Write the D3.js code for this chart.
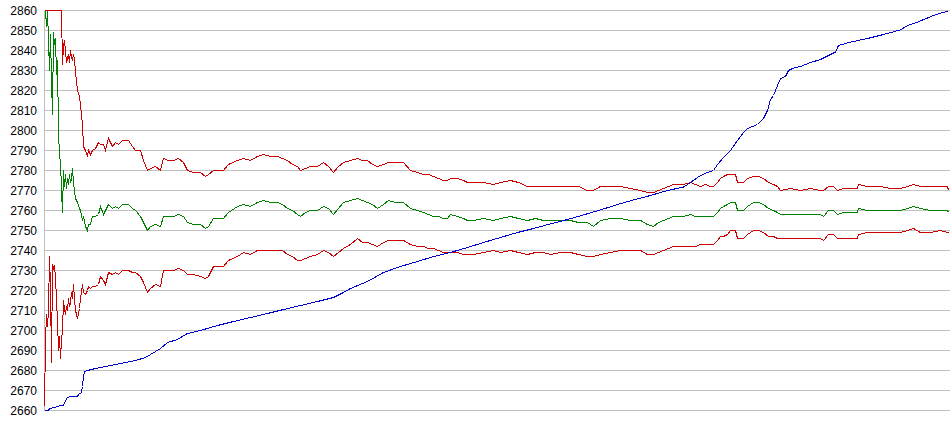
<!DOCTYPE html>
<html>
<head>
<meta charset="utf-8">
<script src="https://cdn.jsdelivr.net/npm/d3@7"></script>
<style>
  body { margin: 0; background: #fff; }
  text { font-family: "Liberation Sans", Arial, sans-serif; font-size: 12px; fill: #000; }
</style>
</head>
<body>
<svg width="950" height="435"></svg>
<script>
// y ticks
var yTicks = d3.range(2660, 2861, 10);

// bar positions shared by the three band series
var bandBars = [0,1,2,3,4,5,6,7,8,9,10,11,12,13,14,15,16,17,18,19,20,21,22,23,24,25,26,27,28,29,30,31,33,35,36,38,39,41,43,44,46,48,51,54,56,59,61,64,68,71,74,78,84,88,91,96,99,103,106,111,116,119,124,129,134,139,143,149,156,161,164,169,179,184,193,199,206,213,219,226,233,238,243,248,253,256,261,266,273,279,284,289,294,299,306,313,318,323,328,333,339,344,351,359,366,373,379,384,389,394,399,403,406,413,419,423,429,439,449,456,466,474,483,491,499,506,516,526,534,543,549,556,566,576,586,596,603,609,614,619,624,629,634,639,646,651,656,661,666,669,673,676,679,683,686,691,693,699,703,709,714,719,724,729,733,736,746,756,766,776,779,784,789,793,799,806,813,814,823,831,836,846,856,863,869,876,886,896,903,904];

// upper band
var upper = [2860,2860,2860,2860,2860,2860,2860,2860,2860,2860,2860,2860,2860,2860,2860,2860,2860,2860,2833,2842,2845,2840,2834,2836,2838,2834,2840,2837,2835,2838,2836,2829,2820,2817,2813,2803,2792,2790,2787,2790,2788,2790,2791,2794,2793,2793,2790,2796,2792,2794,2793,2795,2795,2792,2790,2790,2785,2780,2781,2782,2780,2786,2785,2785,2786,2784,2780,2779,2779,2777,2778,2780,2780,2783,2785,2786,2785,2787,2788,2787,2787,2786,2785,2783,2782,2780,2781,2782,2782,2784,2782,2779,2782,2784,2785,2786,2785,2785,2783,2782,2783,2784,2784,2784,2780,2779,2778,2778,2777,2776,2775,2775,2776,2776,2775,2774,2774,2774,2773,2774,2775,2774,2772,2772,2772,2772,2772,2772,2772,2770,2770,2772,2772,2772,2771,2770,2769,2769,2770,2771,2772,2773,2773,2773,2774,2773,2772,2773,2772,2772,2774,2776,2777,2778,2778,2778,2774,2774,2776,2777,2777,2776,2774,2773,2772,2770,2771,2770,2771,2770,2770,2772,2772,2770,2771,2771,2771,2773,2772,2772,2772,2771,2771,2772,2773,2772,2772,2772,2772,2770];

// middle band
var middle = [2860,2860,2852,2860,2845,2830,2848,2825,2808,2849,2843,2846,2828,2835,2800,2787,2785,2770,2759,2780,2772,2778,2771,2776,2773,2778,2774,2776,2781,2774,2770,2766,2764,2761,2760,2755,2757,2752,2750,2753,2753,2757,2757,2758,2762,2758,2760,2763,2761,2762,2761,2763,2763,2761,2760,2757,2754,2750,2752,2753,2752,2757,2757,2757,2758,2757,2754,2753,2753,2751,2752,2756,2756,2759,2762,2763,2762,2764,2765,2764,2764,2763,2761,2760,2758,2757,2759,2760,2760,2762,2761,2758,2761,2764,2765,2766,2765,2764,2763,2761,2763,2765,2764,2764,2761,2760,2759,2758,2757,2757,2756,2756,2758,2757,2756,2755,2755,2756,2755,2756,2757,2756,2755,2756,2755,2755,2755,2755,2754,2754,2752,2755,2756,2756,2755,2755,2753,2752,2754,2755,2756,2757,2757,2757,2758,2757,2757,2757,2757,2757,2759,2761,2762,2763,2764,2764,2760,2760,2762,2764,2764,2763,2761,2760,2759,2758,2758,2758,2758,2758,2757,2760,2760,2758,2759,2759,2759,2761,2760,2760,2760,2760,2760,2761,2762,2761,2760,2760,2760,2759];

// lower band
var lower = [2662,2695,2708,2702,2710,2737,2722,2684,2733,2731,2732,2727,2715,2705,2690,2697,2686,2695,2700,2715,2711,2708,2712,2710,2716,2712,2714,2719,2716,2723,2716,2710,2706,2711,2716,2723,2719,2718,2720,2722,2721,2722,2722,2723,2727,2725,2723,2729,2728,2729,2728,2730,2730,2729,2729,2727,2724,2719,2721,2723,2722,2730,2730,2730,2731,2730,2728,2728,2727,2726,2727,2732,2732,2735,2737,2739,2738,2740,2740,2740,2740,2740,2738,2737,2735,2735,2736,2737,2738,2740,2739,2737,2739,2741,2743,2746,2744,2744,2743,2742,2744,2745,2745,2745,2743,2742,2742,2741,2741,2740,2739,2739,2739,2739,2738,2738,2738,2739,2740,2739,2740,2739,2738,2739,2739,2738,2739,2739,2738,2737,2737,2738,2739,2740,2740,2740,2738,2738,2739,2740,2741,2742,2742,2742,2742,2742,2743,2743,2743,2743,2745,2747,2747,2748,2750,2750,2746,2746,2748,2750,2750,2749,2747,2747,2746,2746,2746,2746,2746,2746,2745,2748,2748,2746,2746,2746,2746,2748,2749,2749,2749,2749,2749,2750,2751,2749,2749,2750,2749,2749];

// rising line
var trendBars = [0,4,5,11,12,18,20,21,23,26,33,34,37,38,39,40,43,51,61,71,81,91,101,106,111,116,123,133,143,156,173,189,206,223,239,256,273,289,299,306,323,339,356,373,389,406,423,439,456,473,489,506,523,539,556,573,589,606,623,639,646,656,663,669,673,679,686,693,699,703,708,713,719,723,726,729,733,736,741,744,749,756,766,776,786,791,794,806,823,839,856,863,873,889,903];
var trend = [2660,2660,2661,2661.5,2662,2662.5,2663,2665,2666.5,2667,2667,2668,2669,2672,2677,2679.5,2680,2681,2682,2683,2684,2685,2686.5,2688,2689.5,2691,2694,2695.5,2698.5,2700,2702.5,2704.5,2706.5,2708.5,2710.5,2712.5,2714.5,2716.5,2719,2721,2724.5,2729,2732,2734.5,2737,2739,2741.5,2744,2746.5,2749,2751,2753.3,2755.5,2757.8,2760.3,2763,2765.3,2767.5,2770,2771.7,2774,2777.5,2779,2780,2783,2786.5,2790,2795,2799,2801,2802,2803,2806,2810,2815.5,2817.5,2822.5,2826,2827,2830,2831.2,2832,2834,2835.5,2838,2839.2,2842.5,2844.2,2846,2848,2850.3,2852.5,2854.2,2857.5,2859.7];

var svg = d3.select("svg");
var plotLeft = 44, plotRight = 950, plotTop = 10, plotBottom = 410;

var x = d3.scaleLinear().domain([0, 906]).range([plotLeft, plotRight]);
var y = d3.scaleLinear().domain([2660, 2860]).range([plotBottom, plotTop]);

var g = svg.append("g").attr("transform", "translate(0.5,0.5)");

// gridlines
g.append("g")
  .selectAll("line")
  .data(yTicks)
  .join("line")
  .attr("x1", plotLeft)
  .attr("x2", plotRight)
  .attr("y1", d => y(d))
  .attr("y2", d => y(d))
  .attr("stroke", "#c0c0c0")
  .attr("shape-rendering", "crispEdges");

// left axis line
g.append("line")
  .attr("x1", plotLeft).attr("x2", plotLeft)
  .attr("y1", plotTop).attr("y2", plotBottom)
  .attr("stroke", "#c0c0c0")
  .attr("shape-rendering", "crispEdges");

// tick labels
svg.append("g")
  .selectAll("text")
  .data(yTicks)
  .join("text")
  .attr("x", 37)
  .attr("y", d => y(d) + 4.5)
  .attr("text-anchor", "end")
  .text(d => d);

function draw(bars, vals, color) {
  var line = d3.line()
    .defined((d, i) => bars[i] != null)
    .x((d, i) => x(bars[i]))
    .y(d => y(d));
  g.append("path")
    .datum(vals)
    .attr("fill", "none")
    .attr("stroke", color)
    .attr("stroke-width", 1)
    .attr("shape-rendering", "crispEdges")
    .attr("d", line);
}

draw(bandBars, lower, "#cc0000");
draw(bandBars, middle, "#008000");
draw(bandBars, upper, "#cc0000");
draw(trendBars, trend, "#0000cc");
</script>
</body>
</html>
